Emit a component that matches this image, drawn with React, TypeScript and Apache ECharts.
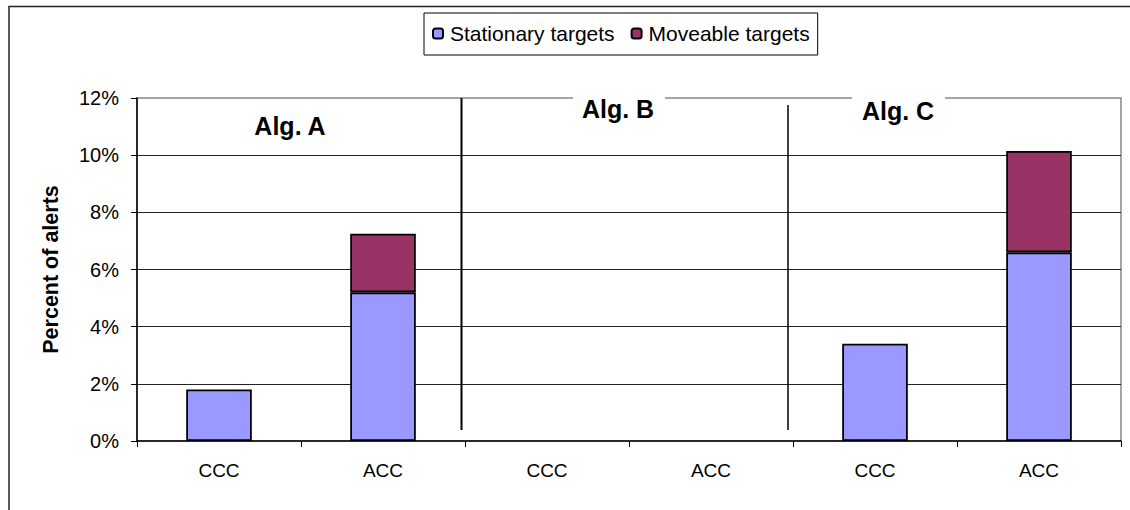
import React, { useEffect, useRef } from "react";
import * as echarts from "echarts";

const categories = ["CCC", "ACC", "CCC", "ACC", "CCC", "ACC"];
const stationary = [1.8, 5.2, 0, 0, 3.4, 6.6];
const moveable = [0, 2.05, 0, 0, 0, 3.55];
const yTicks = [0, 2, 4, 6, 8, 10, 12];
const seriesNames = ["Stationary targets", "Moveable targets"];
const groupLabels = ["Alg. A", "Alg. B", "Alg. C"];

const FONT = "'Liberation Sans', Arial, sans-serif";

export default function App() {
  const ref = useRef<HTMLDivElement>(null);
  useEffect(() => {
    document.body.style.margin = "0";
    if (!ref.current) return;
    const chart = echarts.init(ref.current, null, { renderer: "svg" });
    const nz = (arr: number[]) => arr.map((v) => (v === 0 ? null : v));
    chart.setOption({
      animation: false,
      backgroundColor: "#fff",
      textStyle: { fontFamily: FONT },
      legend: {
        data: seriesNames,
        left: 424,
        top: 13,
        orient: "horizontal",
        itemWidth: 10,
        itemHeight: 10,
        itemGap: 16,
        padding: [10, 8, 11, 8],
        borderColor: "#000",
        borderWidth: 1,
        textStyle: { fontSize: 21, color: "#000", fontFamily: FONT, padding: [0, 0, 0, 2] },
      },
      grid: {
        left: 137,
        right: 9,
        top: 98,
        bottom: 69,
        show: true,
        borderColor: "#888",
        borderWidth: 1.5,
        backgroundColor: "transparent",
      },
      xAxis: {
        type: "category",
        data: categories,
        boundaryGap: true,
        axisLine: { show: true, lineStyle: { color: "#000", width: 1.5 } },
        axisTick: { show: true, length: 6, lineStyle: { color: "#000", width: 1 } },
        axisLabel: { fontSize: 19, color: "#000", margin: 20, fontFamily: FONT },
        splitLine: { show: false },
      },
      yAxis: {
        type: "value",
        min: yTicks[0],
        max: yTicks[yTicks.length - 1],
        interval: 2,
        name: "Percent of alerts",
        nameLocation: "middle",
        nameGap: 75,
        nameRotate: 90,
        nameTextStyle: { fontSize: 21.5, fontWeight: "bold", color: "#000", fontFamily: FONT },
        axisLine: { show: true, lineStyle: { color: "#000", width: 1.5 } },
        axisTick: { show: true, length: 6, lineStyle: { color: "#000", width: 1 } },
        axisLabel: { fontSize: 20, color: "#000", margin: 18, formatter: "{value}%", fontFamily: FONT },
        splitLine: { show: true, showMinLine: false, showMaxLine: false, lineStyle: { color: "#222", width: 1 } },
      },
      series: [
        {
          name: seriesNames[0],
          type: "bar",
          stack: "total",
          data: nz(stationary),
          barWidth: "40%",
          itemStyle: { color: "#9999FF", borderColor: "#000", borderWidth: 1.8 },
        },
        {
          name: seriesNames[1],
          type: "bar",
          stack: "total",
          data: nz(moveable),
          barWidth: "40%",
          itemStyle: { color: "#993366", borderColor: "#000", borderWidth: 1.8 },
        },
      ],
      graphic: [
        {
          type: "rect",
          silent: true,
          z: 100,
          shape: { x: 9, y: 6.5, width: 1140, height: 530 },
          style: { fill: "none", stroke: "#222", lineWidth: 1.5 },
        },
        {
          type: "line",
          z: 100,
          shape: { x1: 461.5, y1: 98, x2: 461.5, y2: 430 },
          style: { stroke: "#000", lineWidth: 2 },
        },
        {
          type: "line",
          z: 100,
          shape: { x1: 788, y1: 105, x2: 788, y2: 430 },
          style: { stroke: "#000", lineWidth: 1.5 },
        },
        {
          type: "rect",
          z: 100,
          shape: { x: 573, y: 94, width: 92, height: 8 },
          style: { fill: "#fff" },
        },
        {
          type: "rect",
          z: 100,
          shape: { x: 852, y: 94, width: 93, height: 8 },
          style: { fill: "#fff" },
        },
        {
          type: "text",
          z: 101,
          x: 290,
          y: 126,
          style: {
            text: groupLabels[0],
            font: `bold 25px ${FONT}`,
            fill: "#000",
            align: "center",
            verticalAlign: "middle",
          },
        },
        {
          type: "text",
          z: 101,
          x: 618,
          y: 109,
          style: {
            text: groupLabels[1],
            font: `bold 25px ${FONT}`,
            fill: "#000",
            align: "center",
            verticalAlign: "middle",
          },
        },
        {
          type: "text",
          z: 101,
          x: 898,
          y: 111,
          style: {
            text: groupLabels[2],
            font: `bold 25px ${FONT}`,
            fill: "#000",
            align: "center",
            verticalAlign: "middle",
          },
        },
      ],
    });
    return () => chart.dispose();
  }, []);
  return <div ref={ref} style={{ width: 1130, height: 510 }} />;
}
